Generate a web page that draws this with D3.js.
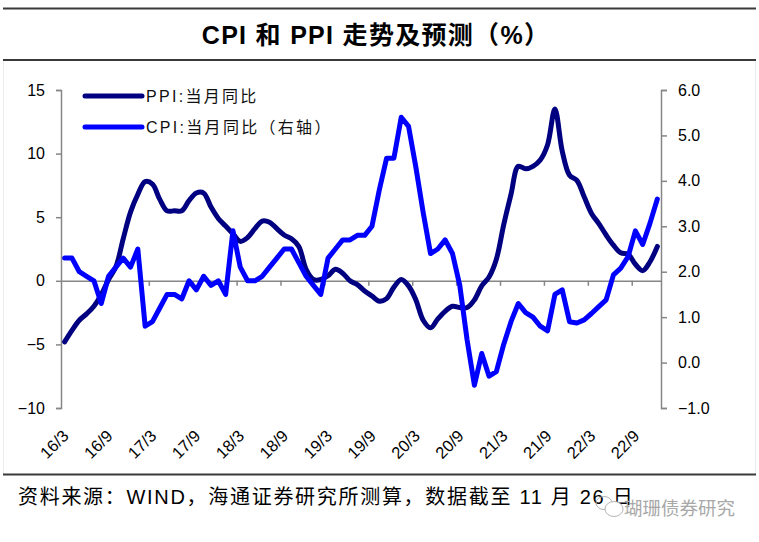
<!DOCTYPE html>
<html>
<head>
<meta charset="utf-8">
<script src="https://cdn.jsdelivr.net/npm/d3@7"></script>
<style>
  body { margin: 0; background: #fff; }
  svg { display: block; }
</style>
</head>
<body>
<div id="chart"></div>
<script>
// CPI 和 PPI 走势及预测 —— 月度数据 2016/3 ~ 2022/12（2021/11 之后为预测值）

// PPI 当月同比（%，左轴）
const ppi = [
  -4.8, -3.9, -3.1, -2.6, -2.0, -1.1, 0.1, 1.1, 3.3, 5.4,          // 2016/3-12
  6.8, 7.8, 7.6, 6.4, 5.5, 5.5, 5.5, 6.3, 6.9, 6.9, 5.8, 4.9,      // 2017
  4.3, 3.7, 3.1, 3.4, 4.1, 4.7, 4.6, 4.1, 3.6, 3.3, 2.7, 0.9,      // 2018
  0.1, 0.1, 0.4, 0.9, 0.6, 0.0, -0.3, -0.8, -1.2, -1.6, -1.4, -0.5, // 2019
  0.1, -0.4, -1.5, -3.1, -3.7, -3.0, -2.4, -2.0, -2.1, -2.1, -1.5, -0.4, // 2020
  0.3, 1.7, 4.4, 6.8, 9.0, 8.8, 9.0, 9.5, 10.7, 13.5, 10.2, 8.3,   // 2021
  7.9, 6.6, 5.3, 4.5, 3.6, 2.8, 2.2, 2.1, 1.3, 0.8, 1.5, 2.7       // 2022
];

// CPI 当月同比（%，右轴）
const cpi = [
  2.3, 2.3, 2.0, 1.9, 1.8, 1.3, 1.9, 2.1, 2.3, 2.1,                // 2016/3-12
  2.5, 0.8, 0.9, 1.2, 1.5, 1.5, 1.4, 1.8, 1.6, 1.9, 1.7, 1.8,      // 2017
  1.5, 2.9, 2.1, 1.8, 1.8, 1.9, 2.1, 2.3, 2.5, 2.5, 2.2, 1.9,      // 2018
  1.7, 1.5, 2.3, 2.5, 2.7, 2.7, 2.8, 2.8, 3.0, 3.8, 4.5, 4.5,      // 2019
  5.4, 5.2, 4.3, 3.3, 2.4, 2.5, 2.7, 2.4, 1.7, 0.5, -0.5, 0.2,     // 2020
  -0.3, -0.2, 0.4, 0.9, 1.3, 1.1, 1.0, 0.8, 0.7, 1.5, 1.6, 0.9,    // 2021
  0.87, 0.94, 1.08, 1.23, 1.38, 1.93, 2.08, 2.33, 2.9, 2.6, 3.07, 3.6 // 2022
];

const tickLabels = ['16/3', '16/9', '17/3', '17/9', '18/3', '18/9', '19/3',
                    '19/9', '20/3', '20/9', '21/3', '21/9', '22/3', '22/9'];
const leftTicks = [-10, -5, 0, 5, 10, 15];
const rightTicks = [-1, 0, 1, 2, 3, 4, 5, 6];

const seriesNames = ['PPI:当月同比', 'CPI:当月同比（右轴）'];
const labelEvery = 6;   // 每 6 个月一个标签

const width = 759, height = 542;
const plot = { left: 61, right: 661, top: 90, bottom: 408 };
const SANS = '"Liberation Sans", Arial, "Noto Sans CJK SC", sans-serif';

const svg = d3.select('#chart')
  .append('svg')
  .attr('width', width)
  .attr('height', height)
  .style('background', '#fff');

// 外框和标题上下的横线
svg.append('rect')
  .attr('x', 3.5).attr('y', 60.5)
  .attr('width', 752).attr('height', 414)
  .attr('fill', 'none')
  .attr('stroke', '#ececec');

[8.5, 60, 474.5].forEach(y => {
  svg.append('line')
    .attr('x1', 3).attr('x2', 756)
    .attr('y1', y).attr('y2', y)
    .attr('stroke', '#3a3a3a')
    .attr('stroke-width', 2);
});

svg.append('text')
  .attr('x', 376).attr('y', 35)
  .attr('text-anchor', 'middle')
  .attr('dominant-baseline', 'central')
  .attr('font-family', SANS)
  .attr('font-weight', 'bold')
  .attr('font-size', '25px')
  .attr('letter-spacing', '1.3px')
  .attr('fill', '#000')
  .text('CPI 和 PPI 走势及预测（%）');

// 比例尺
const n = ppi.length;
const xi = d3.scaleLinear().domain([0, n]).range([plot.left, plot.right]);
const xc = i => xi(i + 0.5);
const yL = d3.scaleLinear().domain([-10, 15]).range([plot.bottom, plot.top]);
const yR = d3.scaleLinear().domain([-1, 6]).range([plot.bottom, plot.top]);

function styleAxis(g) {
  g.select('.domain').attr('stroke', '#868686').attr('stroke-width', 1.5);
  g.selectAll('.tick line').attr('stroke', '#868686').attr('stroke-width', 1.5);
  g.selectAll('.tick text')
    .attr('fill', '#000')
    .attr('font-family', SANS)
    .attr('font-size', '16px');
}

// 左轴
svg.append('g')
  .attr('transform', `translate(${plot.left},0)`)
  .call(d3.axisLeft(yL).tickValues(leftTicks).tickSize(5).tickSizeOuter(5).tickPadding(11))
  .call(styleAxis);

// 右轴
svg.append('g')
  .attr('transform', `translate(${plot.right},0)`)
  .call(d3.axisRight(yR).tickValues(rightTicks).tickSize(6).tickSizeOuter(6).tickPadding(11)
    .tickFormat(d3.format('.1f')))
  .call(styleAxis);

// 零轴（类别轴），刻度在每 6 个月的分界处
const catTicks = d3.range(labelEvery, n, labelEvery);
svg.append('g')
  .attr('transform', `translate(0,${yL(0)})`)
  .call(d3.axisBottom(xi).tickValues(catTicks).tickSize(5).tickSizeOuter(0).tickFormat(''))
  .call(styleAxis);

// 斜排的日期标签
svg.append('g')
  .selectAll('text')
  .data(tickLabels)
  .enter()
  .append('text')
  .attr('transform', (d, i) => `translate(${xc(i * labelEvery) + 1},433) rotate(-45)`)
  .attr('text-anchor', 'end')
  .attr('dy', '0.35em')
  .attr('font-family', SANS)
  .attr('font-size', '16.5px')
  .attr('fill', '#000')
  .text(d => d);

// 折线
const colors = ['#000080', '#0000ff'];

const ppiLine = d3.line()
  .x((d, i) => xc(i))
  .y(d => yL(d))
  .curve(d3.curveCatmullRom.alpha(0.5));

const cpiLine = d3.line()
  .x((d, i) => xc(i))
  .y(d => yR(d));

svg.append('path')
  .datum(ppi)
  .attr('d', ppiLine)
  .attr('fill', 'none')
  .attr('stroke', colors[0])
  .attr('stroke-width', 5)
  .attr('stroke-linejoin', 'round')
  .attr('stroke-linecap', 'round');

svg.append('path')
  .datum(cpi)
  .attr('d', cpiLine)
  .attr('fill', 'none')
  .attr('stroke', colors[1])
  .attr('stroke-width', 5)
  .attr('stroke-linejoin', 'round')
  .attr('stroke-linecap', 'round');

// 图例
const legend = svg.append('g');
seriesNames.forEach((name, i) => {
  const y = 96 + i * 31;
  legend.append('line')
    .attr('x1', 85).attr('x2', 142)
    .attr('y1', y).attr('y2', y)
    .attr('stroke', colors[i])
    .attr('stroke-width', 5)
    .attr('stroke-linecap', 'round');
  legend.append('text')
    .attr('x', 146).attr('y', y)
    .attr('dominant-baseline', 'central')
    .attr('font-family', SANS)
    .attr('font-size', '16px')
    .attr('letter-spacing', '2.3px')
    .attr('fill', '#111')
    .text(name);
});

// 资料来源
svg.append('text')
  .attr('x', 18).attr('y', 497)
  .attr('dominant-baseline', 'central')
  .attr('font-family', SANS)
  .attr('font-size', '20px')
  .attr('letter-spacing', '1.7px')
  .attr('fill', '#000')
  .text('资料来源：WIND，海通证券研究所测算，数据截至 11 月 26 日');

// 水印
const wm = svg.append('g').attr('fill', 'none').attr('stroke', '#b4b4b4').attr('stroke-width', 1);
wm.append('ellipse').attr('cx', 604).attr('cy', 503).attr('rx', 8).attr('ry', 6.5);
wm.append('ellipse').attr('cx', 614).attr('cy', 509).attr('rx', 9).attr('ry', 7.5).attr('fill', '#fff');
svg.append('text')
  .attr('x', 624).attr('y', 508)
  .attr('dominant-baseline', 'central')
  .attr('font-family', SANS)
  .attr('font-size', '18.5px')
  .attr('fill', '#a8a8a8')
  .text('瑚珊债券研究');
</script>
</body>
</html>
